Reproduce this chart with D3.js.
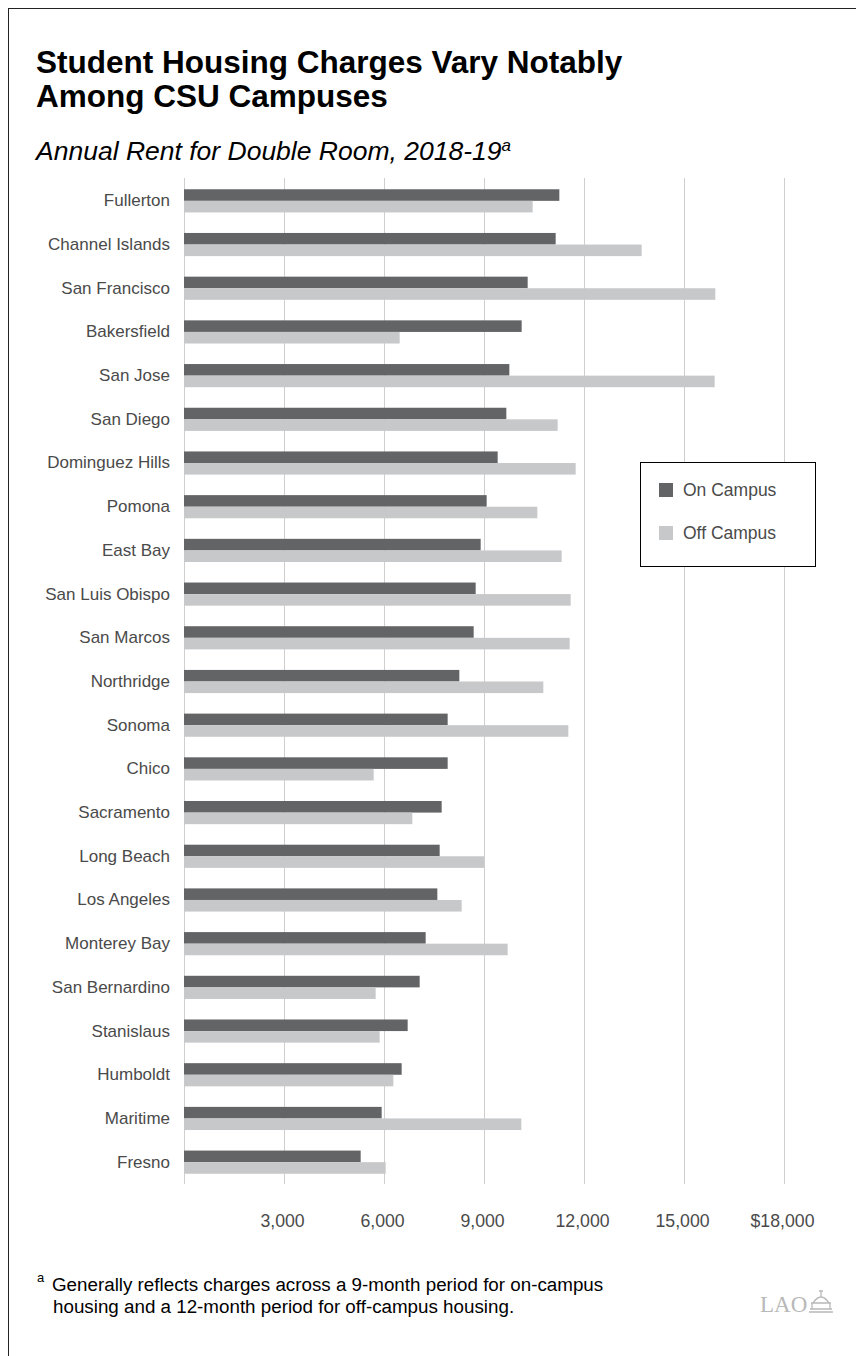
<!DOCTYPE html>
<html>
<head>
<meta charset="utf-8">
<script src="https://d3js.org/d3.v7.min.js"></script>
<style>
  body { margin: 0; background: #fff; }
  text { font-family: "Liberation Sans", Arial, Helvetica, sans-serif; }
</style>
</head>
<body>
<script>
var w = 856, h = 1356;

var campuses = ["Fullerton", "Channel Islands", "San Francisco", "Bakersfield", "San Jose",
  "San Diego", "Dominguez Hills", "Pomona", "East Bay", "San Luis Obispo", "San Marcos",
  "Northridge", "Sonoma", "Chico", "Sacramento", "Long Beach", "Los Angeles", "Monterey Bay",
  "San Bernardino", "Stanislaus", "Humboldt", "Maritime", "Fresno"];

var onCampus = [11260, 11150, 10310, 10130, 9760, 9670, 9410, 9080, 8900, 8750, 8690,
  8260, 7910, 7910, 7730, 7670, 7600, 7250, 7070, 6710, 6530, 5930, 5300];

var offCampus = [10460, 13730, 15940, 6470, 15920, 11210, 11750, 10600, 11330, 11600, 11570,
  10780, 11530, 5690, 6850, 9000, 8330, 9710, 5750, 5870, 6280, 10120, 6050];

var tickValues = [3000, 6000, 9000, 12000, 15000, 18000];
var seriesNames = ["On Campus", "Off Campus"];
var seriesColors = ["#636466", "#c7c8ca"];

var svg = d3.select("body")
  .append("svg")
  .attr("width", w)
  .attr("height", h);

// frame, only top and left edges fall inside the picture
svg.append("rect")
  .attr("x", 8.5)
  .attr("y", 8.5)
  .attr("width", w + 20)
  .attr("height", h + 20)
  .style("fill", "none")
  .style("stroke", "#222")
  .style("stroke-width", 1);

// titles
svg.append("text")
  .attr("x", 36)
  .attr("y", 73)
  .style("font-size", "31.5px")
  .style("font-weight", "bold")
  .style("fill", "#000")
  .text("Student Housing Charges Vary Notably");

svg.append("text")
  .attr("x", 36)
  .attr("y", 107)
  .style("font-size", "31.5px")
  .style("font-weight", "bold")
  .style("fill", "#000")
  .text("Among CSU Campuses");

var sub = svg.append("text")
  .attr("x", 36)
  .attr("y", 160)
  .style("font-size", "26.5px")
  .style("font-style", "italic")
  .style("fill", "#000");
sub.append("tspan").text("Annual Rent for Double Room, 2018-19");
sub.append("tspan")
  .attr("dy", -9)
  .style("font-size", "17px")
  .text("a");

var x = d3.scaleLinear()
  .domain([0, 18000])
  .range([184, 784]);

var y = d3.scaleBand()
  .domain(campuses)
  .range([179, 1184])
  .padding(0);

var barH = y.bandwidth() * 0.265;

// gridlines
svg.selectAll(".grid")
  .data([0].concat(tickValues))
  .enter()
  .append("line")
  .attr("class", "grid")
  .attr("x1", function(d) { return Math.round(x(d)) + 0.5; })
  .attr("x2", function(d) { return Math.round(x(d)) + 0.5; })
  .attr("y1", 178)
  .attr("y2", 1184)
  .style("stroke", "#cfcfcf")
  .style("stroke-width", 1);

var rows = campuses.map(function(c, i) {
  return { campus: c, on: onCampus[i], off: offCampus[i] };
});

svg.selectAll(".onBar")
  .data(rows)
  .enter()
  .append("rect")
  .attr("class", "onBar")
  .attr("x", x(0))
  .attr("y", function(d) { return y(d.campus) + y.bandwidth() / 2 - barH; })
  .attr("width", function(d) { return x(d.on) - x(0); })
  .attr("height", barH)
  .style("fill", seriesColors[0]);

svg.selectAll(".offBar")
  .data(rows)
  .enter()
  .append("rect")
  .attr("class", "offBar")
  .attr("x", x(0))
  .attr("y", function(d) { return y(d.campus) + y.bandwidth() / 2; })
  .attr("width", function(d) { return x(d.off) - x(0); })
  .attr("height", barH)
  .style("fill", seriesColors[1]);

// category labels
var yAxis = d3.axisLeft(y).tickSize(0).tickPadding(0);
var yg = svg.append("g")
  .attr("transform", "translate(170,0)")
  .call(yAxis);
yg.select(".domain").remove();
yg.selectAll("text")
  .style("font-size", "17px")
  .style("fill", "#4a4a4a")
  .style("font-family", "'Liberation Sans', Arial, sans-serif");

// x axis labels
var format = d3.format(",");
var xAxis = d3.axisBottom(x)
  .tickValues(tickValues)
  .tickSize(0)
  .tickPadding(0)
  .tickFormat(function(d) { return d === 18000 ? "$" + format(d) : format(d); });
var xg = svg.append("g")
  .attr("transform", "translate(-2,1214)")
  .call(xAxis);
xg.select(".domain").remove();
xg.selectAll("text")
  .style("font-size", "17.7px")
  .style("fill", "#4a4a4a")
  .style("font-family", "'Liberation Sans', Arial, sans-serif");

// legend
var legend = svg.append("g")
  .attr("transform", "translate(640,462)");
legend.append("rect")
  .attr("x", 0.5)
  .attr("y", 0.5)
  .attr("width", 175)
  .attr("height", 104)
  .style("fill", "#fff")
  .style("stroke", "#000")
  .style("stroke-width", 1);
var items = legend.selectAll(".item")
  .data(seriesNames)
  .enter()
  .append("g")
  .attr("class", "item")
  .attr("transform", function(d, i) { return "translate(19," + (21 + i * 43) + ")"; });
items.append("rect")
  .attr("width", 14)
  .attr("height", 14)
  .style("fill", function(d, i) { return seriesColors[i]; });
items.append("text")
  .attr("x", 24)
  .attr("y", 7)
  .attr("dy", "0.35em")
  .style("font-size", "17.5px")
  .style("fill", "#4a4a4a")
  .text(function(d) { return d; });

// footnote
svg.append("text")
  .attr("x", 37)
  .attr("y", 1282)
  .style("font-size", "13px")
  .style("fill", "#000")
  .text("a");
svg.append("text")
  .attr("x", 52)
  .attr("y", 1291)
  .style("font-size", "18.8px")
  .style("fill", "#000")
  .text("Generally reflects charges across a 9-month period for on-campus");
svg.append("text")
  .attr("x", 53)
  .attr("y", 1313)
  .style("font-size", "18.8px")
  .style("fill", "#000")
  .text("housing and a 12-month period for off-campus housing.");

// LAO mark
var logo = svg.append("g").attr("transform", "translate(760,1312)");
logo.append("text")
  .attr("x", 0)
  .attr("y", 0)
  .style("font-family", "'Liberation Serif', 'DejaVu Serif', serif")
  .style("font-size", "23px")
  .style("fill", "#b8b8b8")
  .text("LAO");
logo.append("path")
  .attr("d", "M49,0 L73,0 M50,-3 L72,-3 M52,-3 L52,-9 M70,-3 L70,-9 M51,-9 L71,-9 M53,-9 Q61,-21 69,-9 M61,-15 L61,-21 M59,-21 L63,-21")
  .style("fill", "none")
  .style("stroke", "#b8b8b8")
  .style("stroke-width", 1.3);
</script>
</body>
</html>
